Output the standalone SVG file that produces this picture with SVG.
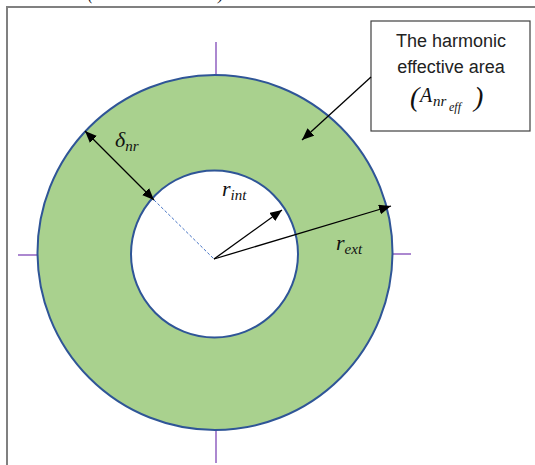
<svg xmlns="http://www.w3.org/2000/svg" width="535" height="465" viewBox="0 0 535 465">
<style>
.frame{stroke:#808080;stroke-width:2;fill:none}
.tick{stroke:#9060C0;stroke-width:1.5}
.ring{fill:#A9D18E;stroke:#2F5597;stroke-width:2}
.hole{fill:#FFFFFF;stroke:#2F5597;stroke-width:2}
.arr{stroke:#000;stroke-width:1.3;fill:none}
.dash{stroke:#4472C4;stroke-width:1;stroke-dasharray:3,2;fill:none}
.box{fill:#fff;stroke:#404040;stroke-width:1.2}
.sans{font-family:"Liberation Sans",Arial,sans-serif;font-size:18px;fill:#222}
.math{font-family:"Liberation Serif","DejaVu Serif",serif;font-style:italic;fill:#111}
</style>
<defs>
<marker id="ah" viewBox="0 0 12 10" refX="12" refY="5" markerWidth="12" markerHeight="10" markerUnits="userSpaceOnUse" orient="auto-start-reverse">
<path d="M0,0 L12,5 L0,10 Z" fill="#000"/>
</marker>
</defs>
<g id="frame">
<path class="frame" d="M7,465 L7,7 L535,7"/>
<text class="math" x="88" y="0" font-size="16" font-style="normal">(</text>
<text class="math" x="218" y="0" font-size="16" font-style="normal">)</text>
</g>
<g id="ticks">
<line class="tick" x1="216" y1="42" x2="216" y2="75"/>
<line class="tick" x1="216" y1="430" x2="216" y2="463"/>
<line class="tick" x1="18" y1="255" x2="37" y2="255"/>
<line class="tick" x1="393" y1="254" x2="411" y2="254"/>
</g>
<g id="outer-circle"><circle class="ring" cx="215" cy="252.5" r="177.5"/></g>
<g id="inner-circle"><circle class="hole" cx="214.5" cy="254" r="83.5"/></g>
<g id="label-box">
<rect class="box" x="371" y="21" width="159" height="110"/>
<text class="sans" x="451" y="47" text-anchor="middle">The harmonic</text>
<text class="sans" x="451" y="73" text-anchor="middle">effective area</text>
<text class="math" font-style="normal" x="410" y="106" font-size="28">(</text>
<text class="math" x="420" y="102" font-size="20">A</text>
<text class="math" x="433" y="106" font-size="15">nr</text>
<text class="math" x="449" y="111" font-size="12">eff</text>
<text class="math" font-style="normal" x="474" y="106" font-size="28">)</text>
</g>
<g id="connectors">
<line class="arr" x1="371" y1="77" x2="302" y2="140" marker-end="url(#ah)"/>
<line class="arr" x1="85" y1="131" x2="154" y2="200" marker-start="url(#ah)" marker-end="url(#ah)"/>
<line class="dash" x1="154" y1="200" x2="214" y2="259"/>
<line class="arr" x1="214" y1="259" x2="282" y2="210" marker-end="url(#ah)"/>
<line class="arr" x1="214" y1="259" x2="391" y2="206" marker-end="url(#ah)"/>
</g>
<g id="labels">
<text class="math" x="115" y="147" font-size="22">δ<tspan font-size="15" dy="4">nr</tspan></text>
<text class="math" x="222" y="196" font-size="22">r<tspan font-size="15" dy="4">int</tspan></text>
<text class="math" x="336" y="250" font-size="22">r<tspan font-size="15" dy="4">ext</tspan></text>
</g>
</svg>
